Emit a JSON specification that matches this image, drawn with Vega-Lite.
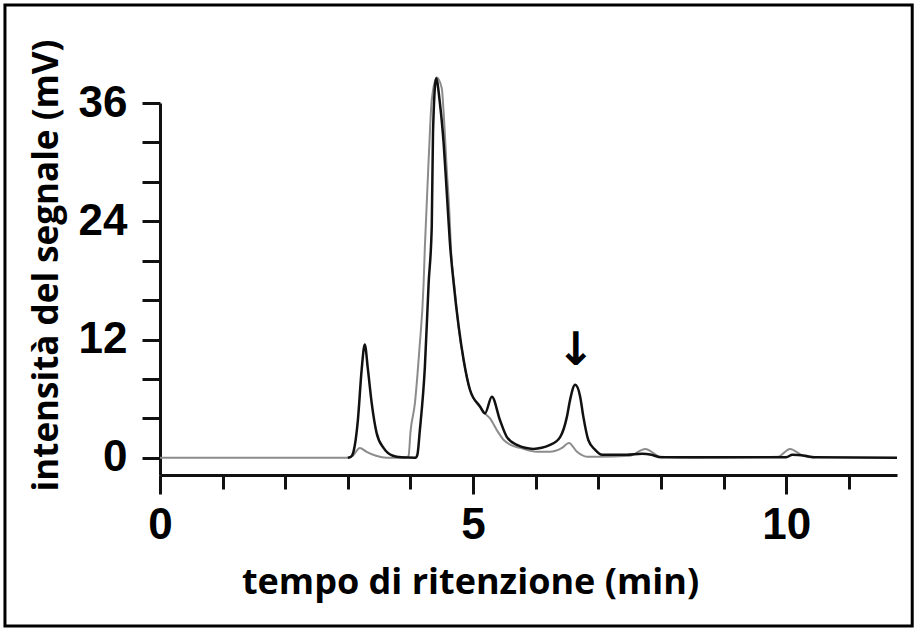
{
  "$schema": "https://vega.github.io/schema/vega-lite/v6.json",
  "width": 737,
  "height": 372,
  "autosize": {"type": "none"},
  "padding": {"left": 160, "top": 103, "right": 20, "bottom": 156},
  "background": "white",
  "config": {"view": {"stroke": null}, "font": "Liberation Sans"},
  "resolve": {"axis": {"x": "independent", "y": "independent"}},
  "datasets": {
    "traces": [
      {"t": 0.0, "v": 0.0, "s": "grigio"},
      {"t": 1.5, "v": 0.0, "s": "grigio"},
      {"t": 3.0, "v": 0.0, "s": "grigio"},
      {"t": 3.08, "v": 0.2, "s": "grigio"},
      {"t": 3.19, "v": 1.0, "s": "grigio"},
      {"t": 3.30, "v": 0.6, "s": "grigio"},
      {"t": 3.45, "v": 0.2, "s": "grigio"},
      {"t": 3.62, "v": 0.0, "s": "grigio"},
      {"t": 3.93, "v": 0.0, "s": "grigio"},
      {"t": 3.97, "v": 0.2, "s": "grigio"},
      {"t": 4.00, "v": 2.6, "s": "grigio"},
      {"t": 4.07, "v": 5.5, "s": "grigio"},
      {"t": 4.14, "v": 10.8, "s": "grigio"},
      {"t": 4.21, "v": 17.7, "s": "grigio"},
      {"t": 4.23, "v": 21.4, "s": "grigio"},
      {"t": 4.29, "v": 30.2, "s": "grigio"},
      {"t": 4.34, "v": 36.3, "s": "grigio"},
      {"t": 4.42, "v": 38.6, "s": "grigio"},
      {"t": 4.50, "v": 37.5, "s": "grigio"},
      {"t": 4.53, "v": 35.0, "s": "grigio"},
      {"t": 4.58, "v": 29.2, "s": "grigio"},
      {"t": 4.62, "v": 25.1, "s": "grigio"},
      {"t": 4.65, "v": 20.8, "s": "grigio"},
      {"t": 4.70, "v": 17.5, "s": "grigio"},
      {"t": 4.77, "v": 13.2, "s": "grigio"},
      {"t": 4.85, "v": 9.8, "s": "grigio"},
      {"t": 4.95, "v": 6.9, "s": "grigio"},
      {"t": 5.11, "v": 5.2, "s": "grigio"},
      {"t": 5.19, "v": 4.5, "s": "grigio"},
      {"t": 5.27, "v": 4.0, "s": "grigio"},
      {"t": 5.38, "v": 2.8, "s": "grigio"},
      {"t": 5.49, "v": 1.8, "s": "grigio"},
      {"t": 5.60, "v": 1.3, "s": "grigio"},
      {"t": 5.75, "v": 1.0, "s": "grigio"},
      {"t": 6.02, "v": 0.6, "s": "grigio"},
      {"t": 6.23, "v": 0.6, "s": "grigio"},
      {"t": 6.42, "v": 1.0, "s": "grigio"},
      {"t": 6.53, "v": 1.5, "s": "grigio"},
      {"t": 6.66, "v": 0.6, "s": "grigio"},
      {"t": 6.82, "v": 0.1, "s": "grigio"},
      {"t": 7.0, "v": 0.1, "s": "grigio"},
      {"t": 7.5, "v": 0.2, "s": "grigio"},
      {"t": 7.75, "v": 0.9, "s": "grigio"},
      {"t": 7.99, "v": 0.1, "s": "grigio"},
      {"t": 8.5, "v": 0.0, "s": "grigio"},
      {"t": 9.87, "v": 0.1, "s": "grigio"},
      {"t": 10.06, "v": 0.9, "s": "grigio"},
      {"t": 10.27, "v": 0.2, "s": "grigio"},
      {"t": 10.45, "v": 0.0, "s": "grigio"},
      {"t": 3.0, "v": 0.0, "s": "nero"},
      {"t": 3.05, "v": 0.1, "s": "nero"},
      {"t": 3.09, "v": 0.6, "s": "nero"},
      {"t": 3.16, "v": 3.8, "s": "nero"},
      {"t": 3.22, "v": 8.9, "s": "nero"},
      {"t": 3.27, "v": 11.5, "s": "nero"},
      {"t": 3.32, "v": 9.0, "s": "nero"},
      {"t": 3.38, "v": 5.6, "s": "nero"},
      {"t": 3.46, "v": 2.5, "s": "nero"},
      {"t": 3.57, "v": 1.0, "s": "nero"},
      {"t": 3.72, "v": 0.2, "s": "nero"},
      {"t": 3.85, "v": 0.05, "s": "nero"},
      {"t": 4.08, "v": 0.0, "s": "nero"},
      {"t": 4.11, "v": 0.3, "s": "nero"},
      {"t": 4.15, "v": 2.8, "s": "nero"},
      {"t": 4.23, "v": 9.2, "s": "nero"},
      {"t": 4.29, "v": 17.7, "s": "nero"},
      {"t": 4.34, "v": 23.5, "s": "nero"},
      {"t": 4.36, "v": 33.0, "s": "nero"},
      {"t": 4.41, "v": 38.5, "s": "nero"},
      {"t": 4.47, "v": 36.0, "s": "nero"},
      {"t": 4.53, "v": 31.9, "s": "nero"},
      {"t": 4.58, "v": 26.9, "s": "nero"},
      {"t": 4.63, "v": 21.8, "s": "nero"},
      {"t": 4.69, "v": 17.7, "s": "nero"},
      {"t": 4.77, "v": 13.3, "s": "nero"},
      {"t": 4.85, "v": 9.9, "s": "nero"},
      {"t": 4.95, "v": 6.9, "s": "nero"},
      {"t": 5.11, "v": 5.2, "s": "nero"},
      {"t": 5.19, "v": 4.5, "s": "nero"},
      {"t": 5.30, "v": 6.2, "s": "nero"},
      {"t": 5.43, "v": 3.8, "s": "nero"},
      {"t": 5.54, "v": 2.1, "s": "nero"},
      {"t": 5.70, "v": 1.3, "s": "nero"},
      {"t": 5.96, "v": 0.9, "s": "nero"},
      {"t": 6.23, "v": 1.3, "s": "nero"},
      {"t": 6.39, "v": 2.1, "s": "nero"},
      {"t": 6.50, "v": 4.2, "s": "nero"},
      {"t": 6.55, "v": 5.9, "s": "nero"},
      {"t": 6.63, "v": 7.4, "s": "nero"},
      {"t": 6.71, "v": 6.2, "s": "nero"},
      {"t": 6.76, "v": 4.2, "s": "nero"},
      {"t": 6.84, "v": 1.8, "s": "nero"},
      {"t": 6.95, "v": 0.8, "s": "nero"},
      {"t": 7.06, "v": 0.3, "s": "nero"},
      {"t": 7.45, "v": 0.3, "s": "nero"},
      {"t": 7.7, "v": 0.4, "s": "nero"},
      {"t": 7.85, "v": 0.3, "s": "nero"},
      {"t": 8.0, "v": 0.05, "s": "nero"},
      {"t": 10.0, "v": 0.05, "s": "nero"},
      {"t": 10.1, "v": 0.3, "s": "nero"},
      {"t": 10.3, "v": 0.2, "s": "nero"},
      {"t": 10.45, "v": 0.05, "s": "nero"},
      {"t": 11.77, "v": 0.0, "s": "nero"}
    ]
  },
  "layer": [
    {
      "data": {"name": "traces"},
      "transform": [{"filter": "datum.s === 'grigio'"}],
      "mark": {"type": "line", "color": "#8c8c8c", "strokeWidth": 2, "interpolate": "monotone"},
      "encoding": {
        "x": {"field": "t", "type": "quantitative", "scale": {"domain": [0, 11.77], "nice": false, "zero": false},
          "axis": {
            "title": "tempo di ritenzione (min)",
            "values": [0, 1, 2, 3, 4, 5, 6, 7, 8, 9, 10, 11],
            "labelExpr": "datum.value % 5 === 0 ? datum.label : ''",
            "grid": false,
            "domainColor": "#111", "domainWidth": 3,
            "tickColor": "#111", "tickWidth": 3,
            "tickSize": {"condition": {"test": "datum.value % 5 === 0", "value": 19}, "value": 14},
            "labelFont": "Liberation Sans", "labelFontSize": 44, "labelFontWeight": "bold", "labelColor": "#000",
            "labelPadding": 9, "labelOverlap": false, "labelFlush": false, "labelBound": false,
            "titleFont": "Open Sans", "titleFontSize": 36, "titleFontWeight": "bold", "titleColor": "#000",
            "titlePadding": 18, "titleX": 310
          }},
        "y": {"field": "v", "type": "quantitative", "scale": {"domain": [-1.75, 36], "nice": false, "zero": false},
          "axis": {
            "title": "intensità del segnale (mV)",
            "values": [0, 4, 8, 12, 16, 20, 24, 28, 32, 36],
            "labelExpr": "datum.value % 12 === 0 ? datum.label : ''",
            "grid": false,
            "domainColor": "#111", "domainWidth": 3,
            "tickColor": "#111", "tickWidth": 3, "tickSize": 18,
            "labelFont": "Liberation Sans", "labelFontSize": 44, "labelFontWeight": "bold", "labelColor": "#000",
            "labelPadding": 15, "labelOverlap": false, "labelFlush": false, "labelBound": false,
            "titleFont": "Open Sans", "titleFontSize": 35, "titleFontWeight": "bold", "titleColor": "#000",
            "titlePadding": 14, "titleY": 162
          }}
      }
    },
    {
      "data": {"name": "traces"},
      "transform": [{"filter": "datum.s === 'nero'"}],
      "mark": {"type": "line", "color": "#111111", "strokeWidth": 2.5, "interpolate": "monotone"},
      "encoding": {
        "x": {"field": "t", "type": "quantitative", "scale": {"domain": [0, 11.77], "nice": false, "zero": false}, "axis": null},
        "y": {"field": "v", "type": "quantitative", "scale": {"domain": [-1.75, 36], "nice": false, "zero": false}, "axis": null}
      }
    },
    {
      "data": {"values": [{"nota": "picco"}]},
      "mark": {"type": "text", "text": "↓", "font": "DejaVu Sans", "fontSize": 46, "fontWeight": "bold", "color": "#000", "baseline": "middle", "align": "center"},
      "encoding": {
        "x": {"datum": 6.64, "type": "quantitative", "scale": {"domain": [0, 11.77], "nice": false, "zero": false}, "axis": null},
        "y": {"datum": 10.8, "type": "quantitative", "scale": {"domain": [-1.75, 36], "nice": false, "zero": false}, "axis": null}
      }
    },
    {
      "data": {"values": [{"nota": "cornice"}]},
      "mark": {"type": "rect", "fill": "transparent", "stroke": "#000", "strokeWidth": 3, "opacity": 1},
      "encoding": {
        "x": {"datum": -2.476, "type": "quantitative", "scale": {"domain": [0, 11.77], "nice": false, "zero": false}, "axis": null},
        "x2": {"datum": 12.013},
        "y": {"datum": 45.95, "type": "quantitative", "scale": {"domain": [-1.75, 36], "nice": false, "zero": false}, "axis": null},
        "y2": {"datum": -17.07}
      }
    }
  ]
}
